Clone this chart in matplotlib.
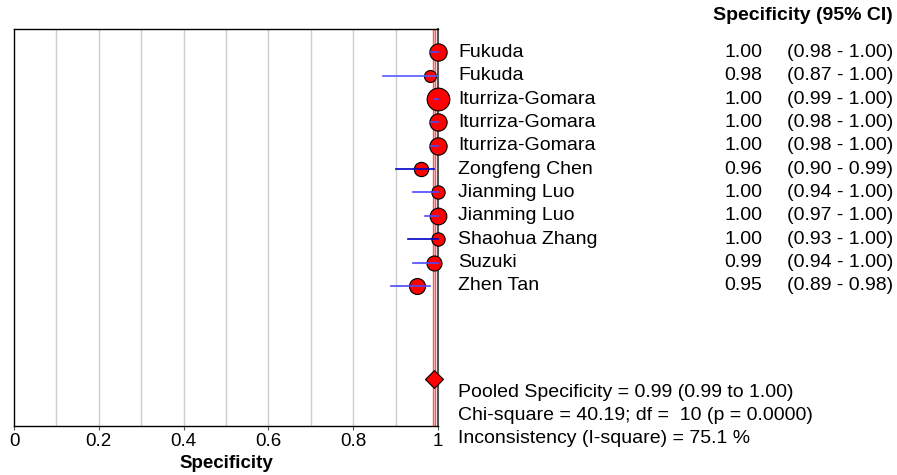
import matplotlib
matplotlib.use("Agg")
import matplotlib.pyplot as plt
import matplotlib.transforms as mtransforms

plt.rcParams['font.family'] = ['Liberation Sans', 'DejaVu Sans']

# study-level specificity with 95% CI
studies = ['Fukuda', 'Fukuda', 'Iturriza-Gomara', 'Iturriza-Gomara', 'Iturriza-Gomara',
           'Zongfeng Chen', 'Jianming Luo', 'Jianming Luo', 'Shaohua Zhang', 'Suzuki', 'Zhen Tan']
spec = [1.00, 0.98, 1.00, 1.00, 1.00, 0.96, 1.00, 1.00, 1.00, 0.99, 0.95]
ci_low = [0.98, 0.87, 0.99, 0.98, 0.98, 0.90, 0.94, 0.97, 0.93, 0.94, 0.89]
ci_high = [1.00, 1.00, 1.00, 1.00, 1.00, 0.99, 1.00, 1.00, 1.00, 1.00, 0.98]
weights = [17.3, 12, 22.7, 17.3, 17.3, 14.3, 13.3, 16.7, 13.3, 15, 16]  # marker diameter in px

pooled = 0.99
pooled_low = 0.99
pooled_high = 1.00
chi2 = 40.19
df = 10
p_value = 0.0000
i2 = 75.1

fig = plt.figure(figsize=(8.97, 4.75), dpi=100)
ax = fig.add_axes([14 / 897, 49 / 475, 424 / 897, 397 / 475])

rows = list(range(1, len(studies) + 1))
pooled_row = 15

ax.set_xlim(0, 1)
ax.set_ylim(17, 0)

# grid
for g in [0.1, 0.2, 0.3, 0.4, 0.5, 0.6, 0.7, 0.8, 0.9]:
    ax.axvline(g, color='#cccccc', lw=1, zorder=0)

# pooled estimate band
ax.axvspan(pooled - 0.0025, pooled + 0.0025, facecolor='#ffe0e0', edgecolor='#ff5a5a',
           lw=1, zorder=1)

ci_colors = ['#4a4aff', '#5a5aff', '#4a4aff', '#4a4aff', '#4a4aff', '#0000c8',
             '#4a4aff', '#4a4aff', '#0000c8', '#4a4aff', '#4a4aff']

for r, s, lo, hi, w, c in zip(rows, spec, ci_low, ci_high, weights, ci_colors):
    ax.scatter([s], [r], s=(w * 0.72) ** 2, color='red', edgecolor='black',
               linewidth=0.8, zorder=3, clip_on=False)
    ax.plot([lo, hi], [r, r], color=c, lw=1.2, zorder=4, clip_on=False)

ax.plot([pooled], [pooled_row], marker='D', markersize=9.5, color='red',
        markeredgecolor='black', markeredgewidth=0.8, zorder=5, clip_on=False)

fs = 14
ax.set_xticks([0, 0.2, 0.4, 0.6, 0.8, 1])
ax.set_xticklabels(['0', '0.2', '0.4', '0.6', '0.8', '1'], fontsize=13.5)
ax.set_yticks([])
ax.tick_params(axis='x', direction='out', length=3, color='#555555', pad=2)
for side in ['left', 'top', 'bottom']:
    ax.spines[side].set_color('black')
    ax.spines[side].set_linewidth(1)
ax.spines['right'].set_color('#555555')
ax.spines['right'].set_linewidth(1.5)
ax.set_xlabel('Specificity', fontsize=13.5, fontweight='bold', labelpad=4)

trans = mtransforms.blended_transform_factory(fig.transFigure, ax.transData)
x_name = 458 / 897
x_val = 762 / 897
x_ci = 893 / 897

fig.text(x_ci, 1 - 15 / 475, 'Specificity (95% CI)', ha='right', va='center',
         fontsize=fs, fontweight='bold')

for r, name, s, lo, hi in zip(rows, studies, spec, ci_low, ci_high):
    ax.text(x_name, r, name, transform=trans, ha='left', va='center', fontsize=fs)
    ax.text(x_val, r, f'{s:.2f}', transform=trans, ha='right', va='center', fontsize=fs)
    ax.text(x_ci, r, f'({lo:.2f} - {hi:.2f})', transform=trans, ha='right',
            va='center', fontsize=fs)

ax.text(x_name, 15.55, f'Pooled Specificity = {pooled:.2f} ({pooled_low:.2f} to {pooled_high:.2f})',
        transform=trans, ha='left', va='center', fontsize=fs, clip_on=False)
ax.text(x_name, 16.55, f'Chi-square = {chi2:.2f}; df =  {df} (p = {p_value:.4f})',
        transform=trans, ha='left', va='center', fontsize=fs, clip_on=False)
ax.text(x_name, 17.55, f'Inconsistency (I-square) = {i2:.1f} %',
        transform=trans, ha='left', va='center', fontsize=fs, clip_on=False)

fig.savefig('out.png', dpi=100)
